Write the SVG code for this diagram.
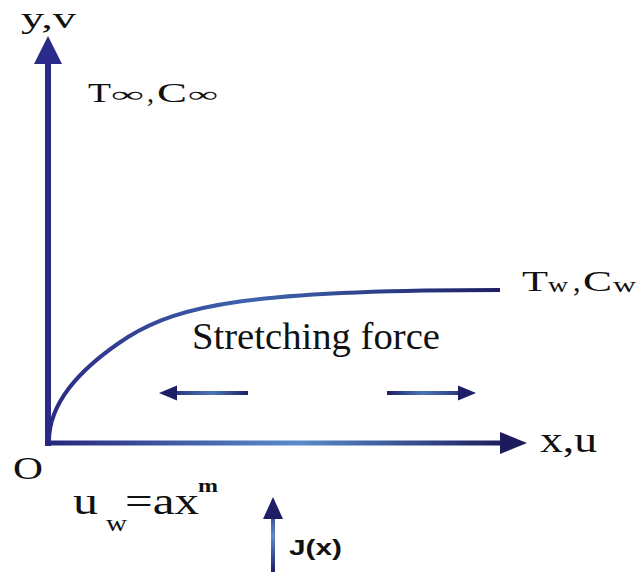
<svg xmlns="http://www.w3.org/2000/svg" width="643" height="572" viewBox="0 0 643 572">
<defs>
<linearGradient id="gx" gradientUnits="userSpaceOnUse" x1="44" y1="0" x2="505" y2="0">
<stop offset="0" stop-color="#25257a"/>
<stop offset="0.55" stop-color="#5a8ccb"/>
<stop offset="1" stop-color="#1c1c5c"/>
</linearGradient>
<linearGradient id="gc" gradientUnits="userSpaceOnUse" x1="48" y1="0" x2="500" y2="0">
<stop offset="0" stop-color="#2a2a85"/>
<stop offset="0.45" stop-color="#3e64ad"/>
<stop offset="1" stop-color="#1e1e66"/>
</linearGradient>
<linearGradient id="gl" gradientUnits="userSpaceOnUse" x1="160" y1="0" x2="248" y2="0">
<stop offset="0" stop-color="#1e1e66"/>
<stop offset="0.6" stop-color="#4a78b8"/>
<stop offset="1" stop-color="#1e1e66"/>
</linearGradient>
<linearGradient id="gr" gradientUnits="userSpaceOnUse" x1="387" y1="0" x2="475" y2="0">
<stop offset="0" stop-color="#1e1e66"/>
<stop offset="0.4" stop-color="#4a78b8"/>
<stop offset="1" stop-color="#1e1e66"/>
</linearGradient>
<linearGradient id="gj" gradientUnits="userSpaceOnUse" x1="0" y1="572" x2="0" y2="500">
<stop offset="0" stop-color="#1e1e66"/>
<stop offset="0.5" stop-color="#5a8ccb"/>
<stop offset="1" stop-color="#1e1e66"/>
</linearGradient>
<style>
.s{font-family:"Liberation Serif","Times New Roman",serif;fill:#111}
.b{font-family:"Liberation Sans",Arial,sans-serif;font-weight:bold;fill:#111}
.n{fill:#1e1e66}
</style>
</defs>
<g id="connectors">
<path id="y-axis" d="M48,446 V58" stroke="#2a2a88" stroke-width="6" fill="none"/>
<path d="M34,64 L48,36 L62,64 Z" fill="#2a2a8a"/>
<path id="x-axis" d="M45,443 H505" stroke="url(#gx)" stroke-width="5" fill="none"/>
<path d="M500,432 L527,443 L500,454 Z" fill="#1c1c5c"/>
<path id="curve" d="M49,441 Q49,388 128,337 C180,305 250,290 500,290" stroke="url(#gc)" stroke-width="4" fill="none"/>
<path d="M248,393 H172" stroke="url(#gl)" stroke-width="4" fill="none"/>
<path class="n" d="M177,385.5 L159,393 L177,400.5 Z"/>
<path d="M387,393 H460" stroke="url(#gr)" stroke-width="4" fill="none"/>
<path class="n" d="M458,385.5 L476,393 L458,400.5 Z"/>
<path d="M273,572 V514" stroke="url(#gj)" stroke-width="4" fill="none"/>
<path class="n" d="M263,519 L273,497 L283,519 Z"/>
</g>
<g id="labels">
<text class="s" x="21" y="28" font-size="30" textLength="55" lengthAdjust="spacingAndGlyphs">y,v</text>
<text class="s" x="88" y="102" font-size="28" textLength="23" lengthAdjust="spacingAndGlyphs">T</text>
<text class="s" x="111" y="102" font-size="22" textLength="33" lengthAdjust="spacingAndGlyphs">∞</text>
<text class="s" x="147" y="102" font-size="28">,</text>
<text class="s" x="157" y="102" font-size="28" textLength="30" lengthAdjust="spacingAndGlyphs">C</text>
<text class="s" x="188" y="102" font-size="22" textLength="30" lengthAdjust="spacingAndGlyphs">∞</text>
<text class="s" x="522" y="291" font-size="30" textLength="26" lengthAdjust="spacingAndGlyphs">T</text>
<text class="s" x="548" y="292" font-size="22" textLength="20" lengthAdjust="spacingAndGlyphs">w</text>
<text class="s" x="573" y="291" font-size="30">,</text>
<text class="s" x="583" y="291" font-size="30" textLength="29" lengthAdjust="spacingAndGlyphs">C</text>
<text class="s" x="613" y="292" font-size="22" textLength="23" lengthAdjust="spacingAndGlyphs">w</text>
<text class="s" x="192" y="349" font-size="37" textLength="248" lengthAdjust="spacingAndGlyphs">Stretching force</text>
<text class="s" x="540" y="452" font-size="35" textLength="57" lengthAdjust="spacingAndGlyphs">x,u</text>
<text class="s" x="13" y="479" font-size="32" textLength="30" lengthAdjust="spacingAndGlyphs">O</text>
<text class="s" x="73" y="514" font-size="38" textLength="25" lengthAdjust="spacingAndGlyphs">u</text>
<text class="s" x="106" y="531" font-size="23" textLength="21" lengthAdjust="spacingAndGlyphs">w</text>
<text class="s" x="125" y="514" font-size="38" textLength="74" lengthAdjust="spacingAndGlyphs">=ax</text>
<text class="s" x="198" y="492" font-size="19" font-weight="bold" textLength="20" lengthAdjust="spacingAndGlyphs">m</text>
<text class="b" x="289" y="555" font-size="22" textLength="53" lengthAdjust="spacingAndGlyphs">J(x)</text>
</g>
</svg>
